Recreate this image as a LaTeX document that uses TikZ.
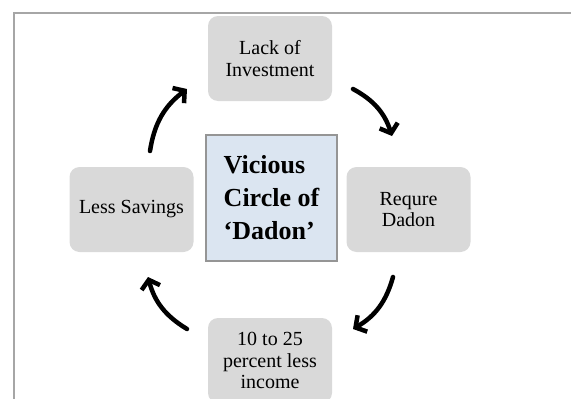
\documentclass[tikz,border=0pt]{standalone}
\usepackage{fontspec}
\setmainfont{Liberation Serif}
\usetikzlibrary{arrows.meta,positioning}
\definecolor{boxgray}{HTML}{D9D9D9}
\definecolor{boxblue}{HTML}{DBE5F1}
\definecolor{edgegray}{HTML}{A6A6A6}
\tikzset{
  stage/.style={fill=boxgray, rounded corners=10pt, minimum width=124pt,
    minimum height=85pt, inner sep=0pt, align=center,
    font=\fontsize{20}{21.5}\selectfont},
  hub/.style={fill=boxblue, draw=edgegray!90!black, line width=1.5pt, minimum width=131pt,
    minimum height=126pt, inner sep=0pt, align=left,
    font=\fontsize{26}{33}\selectfont\bfseries},
  cycle/.style={line width=4.5pt, line cap=round, line join=round,
    -{Straight Barb[length=8pt,width=19pt]}, bend left=22}
}
\begin{document}
\begin{tikzpicture}[x=1pt, y=-1pt]
      \useasboundingbox (0, 0) rectangle (571, 399);
      \draw [edgegray, line width=1.5pt] (14, 399) |- (571, 13);
      \node (hub) [hub] at (271.5, 198) {Vicious\\Circle of\\‘Dadon’};
      \node (invest) [stage] at (270, 58.5) {Lack of\\Investment};
      \node (dadon) [stage] at (408.5, 209.5) {Requre\\Dadon};
      \node (income) [stage] at (270, 360.5) {10 to 25\\percent less\\income};
      \node (savings) [stage] at (131.5, 209.5) {Less Savings};
      % arrow ends
      \coordinate (tl1) at (150, 151);  \coordinate (tl2) at (187, 89);
      \coordinate (tr1) at (353, 89);   \coordinate (tr2) at (392, 136);
      \coordinate (br1) at (393, 277);  \coordinate (br2) at (353, 329);
      \coordinate (bl1) at (187, 329);  \coordinate (bl2) at (148, 277);
      \draw [cycle] (tl1) to (tl2);
      \draw [cycle] (tr1) to (tr2);
      \draw [cycle] (br1) to (br2);
      \draw [cycle] (bl1) to (bl2);
\end{tikzpicture}
\end{document}
